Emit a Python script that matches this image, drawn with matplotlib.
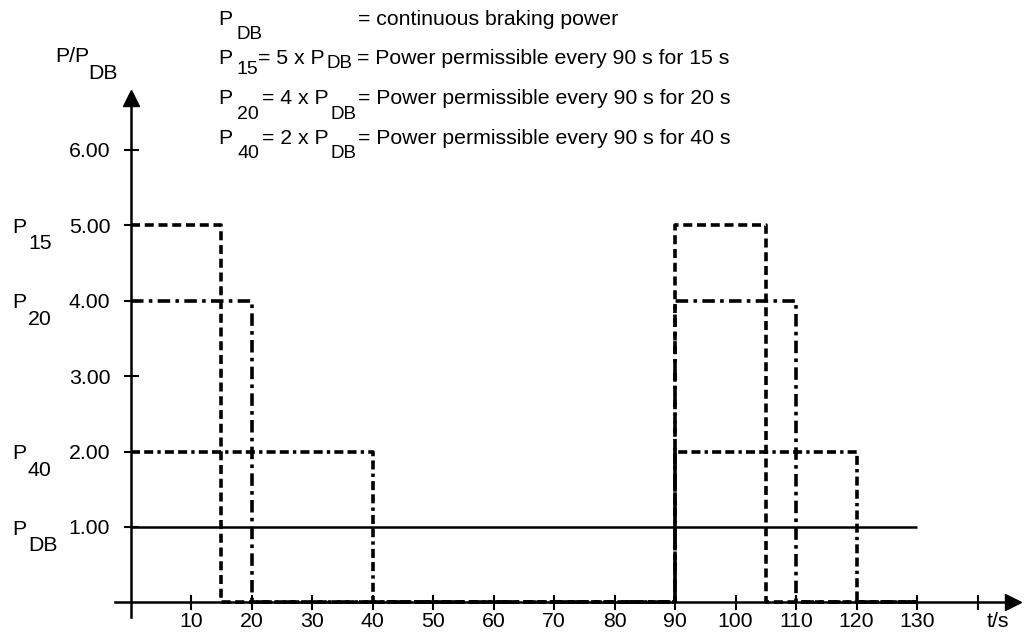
import matplotlib
matplotlib.use("Agg")
import matplotlib.pyplot as plt

plt.rcParams['font.family'] = ['Liberation Sans', 'DejaVu Sans']
plt.rcParams['lines.scale_dashes'] = False

# data: step profiles (value holds until the next time point)
t_db = [0, 130]
p_db = [1, 1]
t_15 = [0, 15, 90, 105, 130]
p_15 = [5, 0, 5, 0, 0]
t_20 = [0, 20, 90, 110, 130]
p_20 = [4, 0, 4, 0, 0]
t_40 = [0, 40, 90, 120, 130]
p_40 = [2, 0, 2, 0, 0]

x_ticks = [10, 20, 30, 40, 50, 60, 70, 80, 90, 100, 110, 120, 130, 140]
x_labels = ['10', '20', '30', '40', '50', '60', '70', '80', '90', '100', '110', '120', '130', '']
y_ticks = [1, 2, 3, 4, 5, 6]
y_labels = ['1.00', '2.00', '3.00', '4.00', '5.00', '6.00']

side_labels = [(5, '15'), (4, '20'), (2, '40'), (1, 'DB')]

W, H = 1024, 637
fig = plt.figure(figsize=(W / 100, H / 100), dpi=100)
ax = fig.add_axes([0, 0, 1, 1])

# pixel layout of the original drawing
x0, sx = 130.5, 6.05     # px of t=0, px per second
y0, sy = 602.4, 75.4     # px of P=0, px per unit
ax.set_xlim(-x0 / sx, (W - x0) / sx)
ax.set_ylim(-(H - y0) / sy, y0 / sy)

def px(x, y):
    return x / W, 1 - y / H

for s in ['top', 'right']:
    ax.spines[s].set_visible(False)
ax.spines['left'].set_position(('data', 0))
ax.spines['bottom'].set_position(('data', 0))
ax.spines['left'].set_bounds(-0.2, 6.6)
ax.spines['bottom'].set_bounds(-2.5, 145.5)
for s in ['left', 'bottom']:
    ax.spines[s].set_linewidth(1.8)

ax.plot([0], [6.69], marker='^', ms=12, color='black', clip_on=False)
ax.plot([145.9], [0], marker='>', ms=12, color='black', clip_on=False)

ax.set_xticks(x_ticks, x_labels)
ax.set_yticks(y_ticks, y_labels)
ax.tick_params(axis='both', direction='inout', length=10.8, width=1.5, labelsize=15.3)
ax.tick_params(axis='x', pad=1.5)
ax.tick_params(axis='y', pad=9.2)

ax.plot(t_db, p_db, color='black', lw=1.8, solid_capstyle='butt')
ax.plot(t_15, p_15, color='black', lw=2.6, drawstyle='steps-post',
        dashes=(6.5, 3.4))
ax.plot(t_20, p_20, color='black', lw=2.6, drawstyle='steps-post',
        dashes=(9, 3.8, 2.6, 3.8))
ax.plot(t_40, p_40, color='black', lw=2.6, drawstyle='steps-post',
        dashes=(6.5, 3, 6.5, 3, 2.4, 3))

fs = 15.3
# axis titles
fig.text(*px(55, 62), 'P/P', fontsize=fs)
fig.text(*px(88, 79), 'DB', fontsize=fs)
fig.text(*px(987, 627), 't/s', fontsize=fs)

for val, sub in side_labels:
    yp = y0 - val * sy
    fig.text(*px(12, yp + 7.6), 'P', fontsize=fs)
    fig.text(*px(28, yp + 24), sub, fontsize=fs)

# explanation block
fig.text(*px(218, 25), 'P', fontsize=fs)
fig.text(*px(236, 39), 'DB', fontsize=13.5)
fig.text(*px(358, 25), '= continuous braking power', fontsize=fs)

fig.text(*px(218, 64.5), 'P', fontsize=fs)
fig.text(*px(237, 74), '15', fontsize=14)
fig.text(*px(258, 64.5), '= 5 x P', fontsize=fs)
fig.text(*px(327, 68), 'DB', fontsize=13.5)
fig.text(*px(357, 64.5), '= Power permissible every 90 s for 15 s', fontsize=fs)

for base, sub, k, secs in [(104, '20', '4', '20'), (143.5, '40', '2', '40')]:
    fig.text(*px(218, base), 'P', fontsize=fs)
    fig.text(*px(237, base + 15), sub, fontsize=14)
    fig.text(*px(262, base), '= %s x P' % k, fontsize=fs)
    fig.text(*px(330, base + 15), 'DB', fontsize=13.5)
    fig.text(*px(358, base), '= Power permissible every 90 s for %s s' % secs, fontsize=fs)

fig.savefig('out.png', dpi=100)
